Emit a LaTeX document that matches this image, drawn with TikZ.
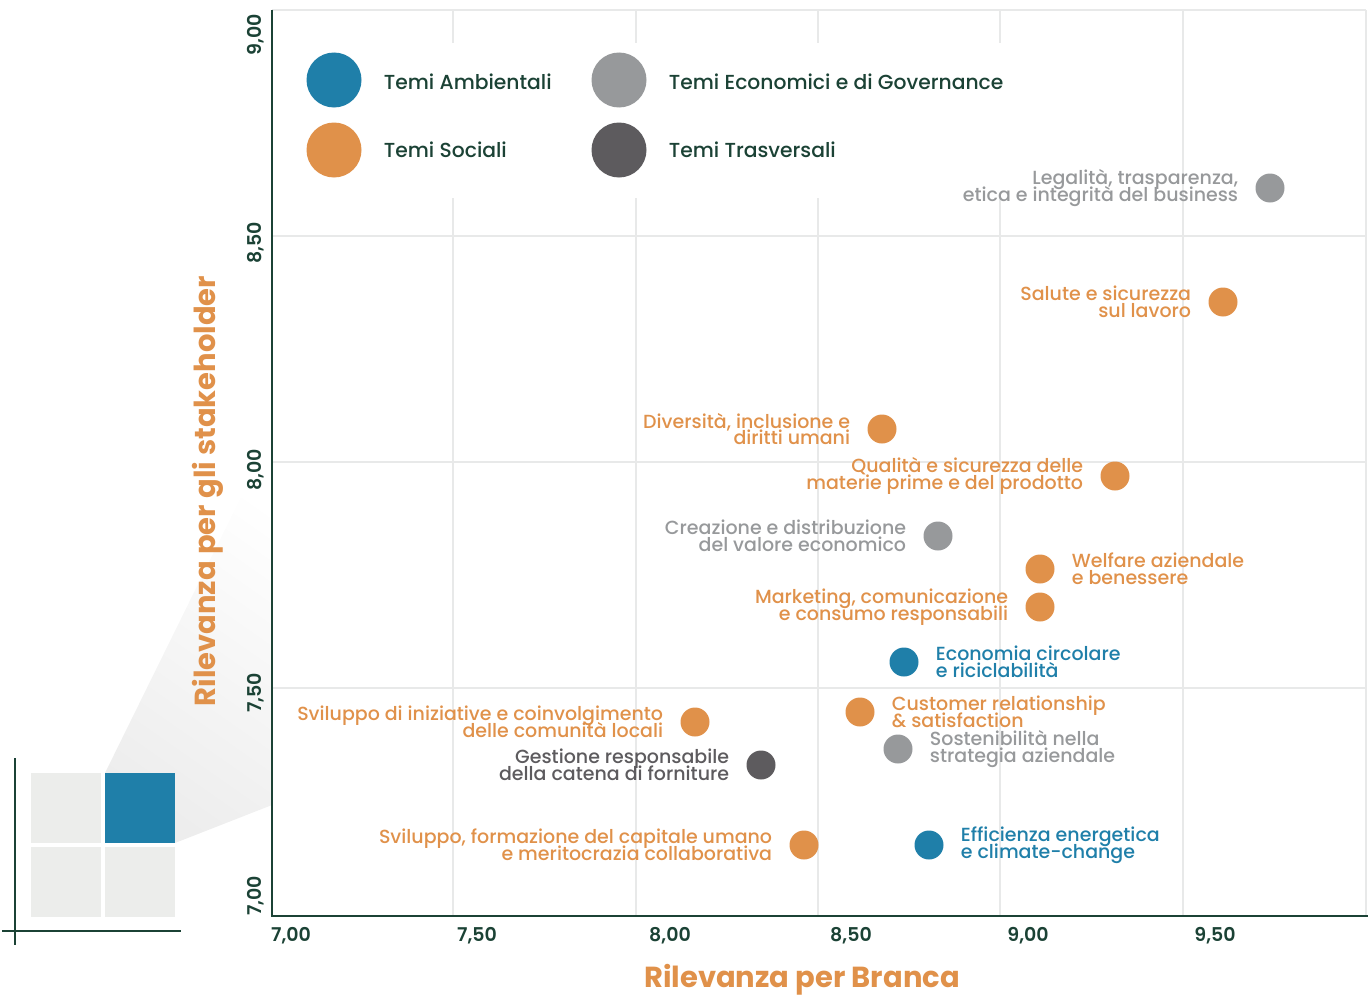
\documentclass[tikz,border=0pt]{standalone}
\usepackage{fontspec}
\setmainfont{Poppins}[UprightFont={* Medium},BoldFont={* Bold}]
\newfontfamily\semib{Poppins SemiBold}
\usetikzlibrary{positioning}

\definecolor{amb}{HTML}{1F7FA9}
\definecolor{soc}{HTML}{E0914A}
\definecolor{eco}{HTML}{97999B}
\definecolor{tra}{HTML}{5D5B5E}
\definecolor{axis}{HTML}{1B4235}
\definecolor{grid}{HTML}{E8E9E9}
\definecolor{cell}{HTML}{ECEDEB}

\newcommand\tightlines{\fontsize{19}{16.8}\selectfont\setlength\lineskiplimit{-30pt}}

\begin{document}
\begin{tikzpicture}[x=1pt,y=-1pt]

\tikzset{
    every node/.style={inner sep=0pt},
    dot/.style={circle, minimum size=29pt, fill=#1},
    key/.style={circle, minimum size=55pt, fill=#1},
    theme/.style={font=\tightlines, text=#1},
    keytext/.style={font=\fontsize{20.3}{20}\selectfont, text=axis},
    tick/.style={font=\semib\fontsize{19}{19}\selectfont, text=axis},
    axtitle/.style={font=\bfseries\fontsize{29}{29}\selectfont, text=soc},
    gridline/.style={draw=grid, line width=2pt},
    cellbox/.style={minimum size=70pt, fill=cell}
}

\useasboundingbox (0,0) rectangle (1370,998);

% small matrix
\shade[bottom color=black!7, top color=white, shading angle=-35]
    (105,773) -- (272,434) -- (272,805) -- (175,843) -- cycle;
\node[cellbox] (q-tl) at (66,808) {};
\node[cellbox, fill=amb] (q-tr) at (140,808) {};
\node[cellbox] (q-bl) at (66,882) {};
\node[cellbox] (q-br) at (140,882) {};
\draw[axis, line width=2pt] (15,758) -- (15,945);
\draw[axis, line width=2pt] (2,931) -- (181,931);

% grid
\foreach \gx in {453,636,818,1000,1183,1366}
    \draw[gridline] (\gx,10) -- (\gx,916);
\foreach \gy in {10,236,462,688}
    \draw[gridline] (272,\gy) -- (1366,\gy);
\fill[white] (282,43) rectangle (1010,198);
\draw[axis, line width=2.2pt] (272,10) -- (272,916) -- (1368,916);

% ticks
\foreach \x/\v in {291/{7,00},477/{7,50},670/{8,00},851/{8,50},1028/{9,00},1215/{9,50}}
    \node[tick] (xt-\x) at (\x,936) {\v};
\foreach \y/\v in {35/{9,00},243/{8,50},470/{8,00},693/{7,50},896/{7,00}}
    \node[tick, rotate=90] (yt-\y) at (256,\y) {\v};

\node[axtitle] (x-title) at (802,980) {Rilevanza per Branca};
\node[axtitle, rotate=90] (y-title) at (208,491) {Rilevanza per gli stakeholder};

% legend
\node[key=amb] (k-amb) at (334,80) {};
\node[key=soc] (k-soc) at (334,150) {};
\node[key=eco] (k-eco) at (619,80) {};
\node[key=tra] (k-tra) at (619,150) {};
\node[keytext, right=22pt of k-amb, yshift=-1.5pt] (t-amb) {Temi Ambientali};
\node[keytext, right=22pt of k-soc] (t-soc) {Temi Sociali};
\node[keytext, right=22pt of k-eco, yshift=-1.5pt] (t-eco) {Temi Economici e di Governance};
\node[keytext, right=22pt of k-tra] (t-tra) {Temi Trasversali};

% themes, text on the left
\foreach \nm/\px/\py/\col/\txt in {
    leg/1270/188/eco/{Legalità, trasparenza,\\etica e integrità del business},
    sal/1223/302/soc/{Salute e sicurezza\\sul lavoro},
    div/882/429/soc/{Diversità, inclusione e\\diritti umani},
    qua/1115/476/soc/{Qualità e sicurezza delle\\materie prime e del prodotto},
    cre/938/536/eco/{Creazione e distribuzione\\del valore economico},
    mkt/1040/607/soc/{Marketing, comunicazione\\e consumo responsabili},
    svi/695/722/soc/{Sviluppo di iniziative e coinvolgimento\\delle comunità locali},
    ges/761/765/tra/{Gestione responsabile\\della catena di forniture},
    for/804/845/soc/{Sviluppo, formazione del capitale umano\\e meritocrazia collaborativa}}
{
    \node[dot=\col] (d-\nm) at (\px,\py) {};
    \node[theme=\col, align=right, left=17pt of d-\nm] (l-\nm) {\txt};
}

% themes, text on the right
\foreach \nm/\px/\py/\col/\txt in {
    wel/1040/569/soc/{Welfare aziendale\\e benessere},
    eco/904/662/amb/{Economia circolare\\e riciclabilità},
    cus/860/712/soc/{Customer relationship\\\& satisfaction},
    sos/898/749/eco/{Sostenibilità nella\\strategia aziendale},
    eff/929/845/amb/{Efficienza energetica\\e climate-change}}
{
    \node[dot=\col] (d-\nm) at (\px,\py) {};
    \node[theme=\col, align=left, right=17pt of d-\nm] (l-\nm) {\txt};
}

\end{tikzpicture}
\end{document}
